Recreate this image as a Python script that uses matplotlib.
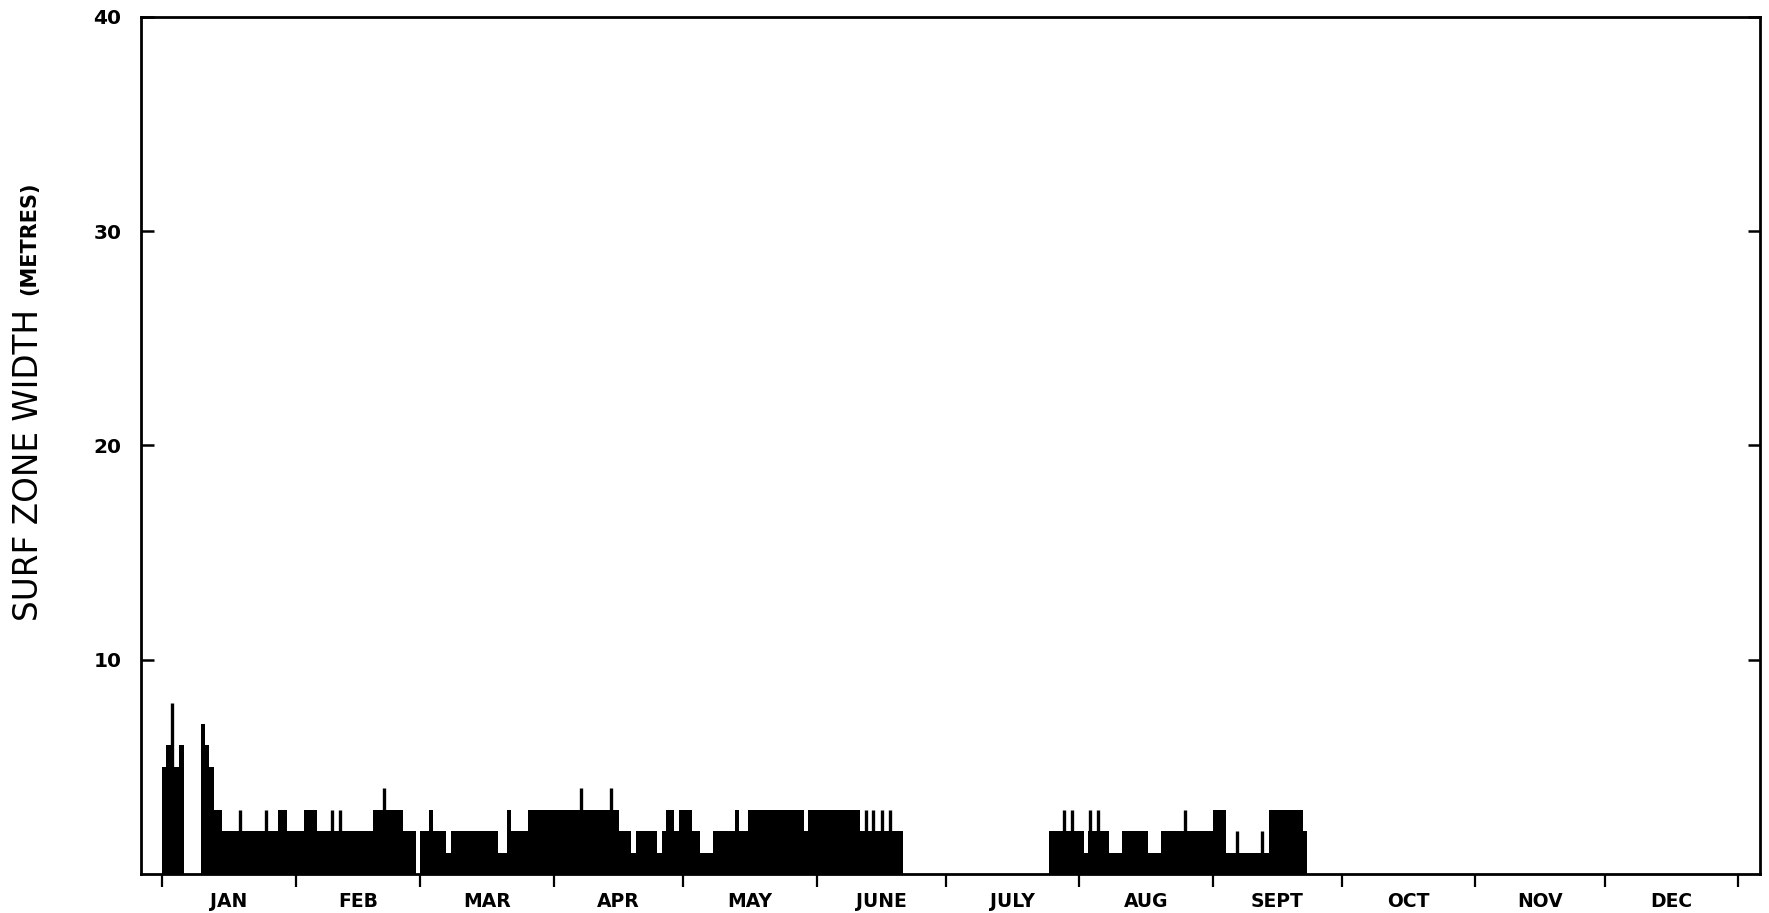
import matplotlib
matplotlib.use("Agg")
import matplotlib.pyplot as plt

# daily surf zone width, read as runs: (first day, last day, width m), day 0 = 1 Jan (leap year)
width_runs = [
    (0, 0, 5), (1, 1, 6), (2, 3, 5), (4, 4, 6),
    (9, 9, 7), (10, 10, 6), (11, 11, 5), (12, 13, 3), (14, 26, 2), (27, 28, 3),
    (29, 32, 2), (33, 35, 3), (36, 48, 2), (49, 55, 3), (56, 58, 2),
    (60, 61, 2), (62, 62, 3), (63, 65, 2), (66, 66, 1), (67, 77, 2), (78, 79, 1),
    (80, 80, 3), (81, 84, 2), (85, 105, 3), (106, 108, 2), (109, 109, 1),
    (110, 114, 2), (115, 115, 1), (116, 116, 2), (117, 118, 3), (119, 119, 2),
    (120, 122, 3), (123, 124, 2), (125, 127, 1), (128, 132, 2), (133, 133, 3),
    (134, 135, 2), (136, 148, 3), (149, 149, 2), (150, 161, 3), (162, 171, 2),
    (206, 213, 2), (214, 214, 1), (215, 219, 2), (220, 222, 1), (223, 228, 2),
    (229, 231, 1), (232, 243, 2), (244, 246, 3), (247, 256, 1), (257, 264, 3),
    (265, 265, 2),
]

# single high readings drawn as thin lines: (day, width m)
spike_days = [2.4, 18.2, 24.2, 39.4, 41.3, 51.5, 97.2, 104.2, 163.5, 165.2,
              167.1, 169.0, 209.4, 211.4, 215.5, 217.4, 237.6, 249.6, 255.4]
spike_vals = [8, 3, 3, 3, 3, 4, 4, 4, 3, 3,
              3, 3, 3, 3, 3, 3, 3, 2, 2]

month_names = ["JAN", "FEB", "MAR", "APR", "MAY", "JUNE", "JULY", "AUG",
               "SEPT", "OCT", "NOV", "DEC"]
month_days = [31, 29, 31, 30, 31, 30, 31, 31, 30, 31, 30, 31]

fig = plt.figure(figsize=(17.69, 9.13), dpi=100)
ax = fig.add_axes([141 / 1769, 1 - 874 / 913, (1760 - 141) / 1769, (874 - 17) / 913])

starts = [r[0] for r in width_runs]
widths = [r[1] - r[0] + 1 for r in width_runs]
heights = [r[2] for r in width_runs]
ax.bar(starts, heights, width=widths, align="edge", color="black", linewidth=0)
ax.vlines(spike_days, 0, spike_vals, color="black", linewidth=2.4)

ax.set_xlim(-4.9, 371.1)
ax.set_ylim(0, 40)

# month boundaries as major ticks, names centred as minor ticks
bounds = [0]
for n in month_days:
    bounds.append(bounds[-1] + n)
centres = [(bounds[i] + bounds[i + 1]) / 2 for i in range(12)]
ax.set_xticks(bounds)
ax.set_xticklabels([])
ax.set_xticks(centres, minor=True)
ax.set_xticklabels(month_names, minor=True, fontsize=13.5, fontweight="bold")
ax.tick_params(axis="x", which="major", direction="out", length=9, width=1.6)
ax.tick_params(axis="x", which="minor", length=0, pad=13)

ax.set_yticks([10, 20, 30, 40])
ax.set_yticklabels(["10", "20", "30", "40"], fontsize=14.5, fontweight="bold")
ax.tick_params(axis="y", direction="in", length=9, width=1.8, pad=14,
               right=True)

for s in ax.spines.values():
    s.set_linewidth(2.0)

fig.text(29 / 1769, 1 - 465 / 913, "SURF ZONE WIDTH", rotation=90,
         ha="center", va="center", fontsize=23.5)
fig.text(29 / 1769, 1 - 238 / 913, "(METRES)", rotation=90,
         ha="center", va="center", fontsize=15, fontweight="bold")

fig.savefig("out.png", dpi=100)
